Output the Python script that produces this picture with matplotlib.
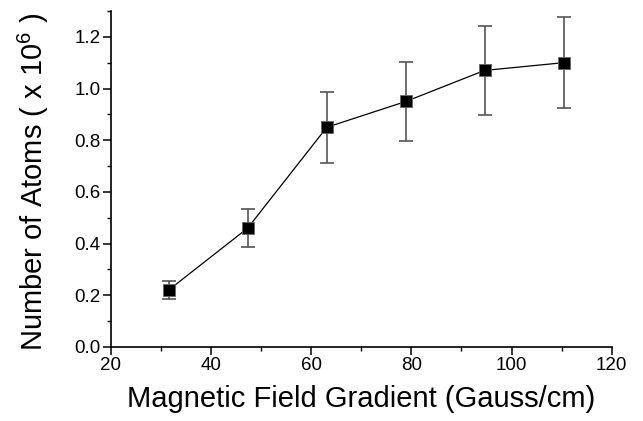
import numpy as np
import matplotlib
matplotlib.use("Agg")
import matplotlib.pyplot as plt
from matplotlib.ticker import MultipleLocator

plt.rcParams['font.family'] = ['Liberation Sans', 'DejaVu Sans']
plt.rcParams['mathtext.default'] = 'regular'

# Data
gradient = [31.5, 47.3, 63.1, 78.9, 94.6, 110.4]
atoms = [0.22, 0.46, 0.85, 0.95, 1.07, 1.10]
atoms_err = [0.035, 0.073, 0.137, 0.152, 0.172, 0.177]

fig = plt.figure(figsize=(6.43, 4.21), dpi=100)
ax = fig.add_axes([0.1726, 0.1758, 0.7787, 0.7981])

ax.errorbar(gradient, atoms, yerr=atoms_err, fmt='none', ecolor='#555555',
            elinewidth=1.2, capsize=5.3, capthick=1.2, zorder=2)
ax.plot(gradient, atoms, color='black', linewidth=0.9, zorder=3)
ax.plot(gradient, atoms, linestyle='none', marker='s', markersize=8.6,
        markerfacecolor='black', markeredgecolor='#666666',
        markeredgewidth=0.6, zorder=4)

ax.set_xlim(20, 120)
ax.set_ylim(0, 1.3)
ax.xaxis.set_major_locator(MultipleLocator(20))
ax.xaxis.set_minor_locator(MultipleLocator(10))
ax.set_yticks(np.arange(0, 1.21, 0.2))
ax.yaxis.set_minor_locator(MultipleLocator(0.1))
ax.yaxis.set_major_formatter(plt.FuncFormatter(lambda v, p: f"{v:.1f}"))

for side in ['top', 'right']:
    ax.spines[side].set_visible(False)
for side in ['left', 'bottom']:
    ax.spines[side].set_linewidth(1.2)

ax.tick_params(which='major', direction='out', length=5.5, width=1.1,
               labelsize=13.5, pad=2)
ax.tick_params(which='minor', direction='out', length=3, width=1.0)

ax.set_xlabel('Magnetic Field Gradient (Gauss/cm)', fontsize=21)
ax.set_ylabel('Number of Atoms ( x 10$^6$ )', fontsize=21)
ax.xaxis.set_label_coords(0.5, -0.112)
ax.yaxis.set_label_coords(-0.12, 0.49)

fig.savefig('out.png', dpi=100)
